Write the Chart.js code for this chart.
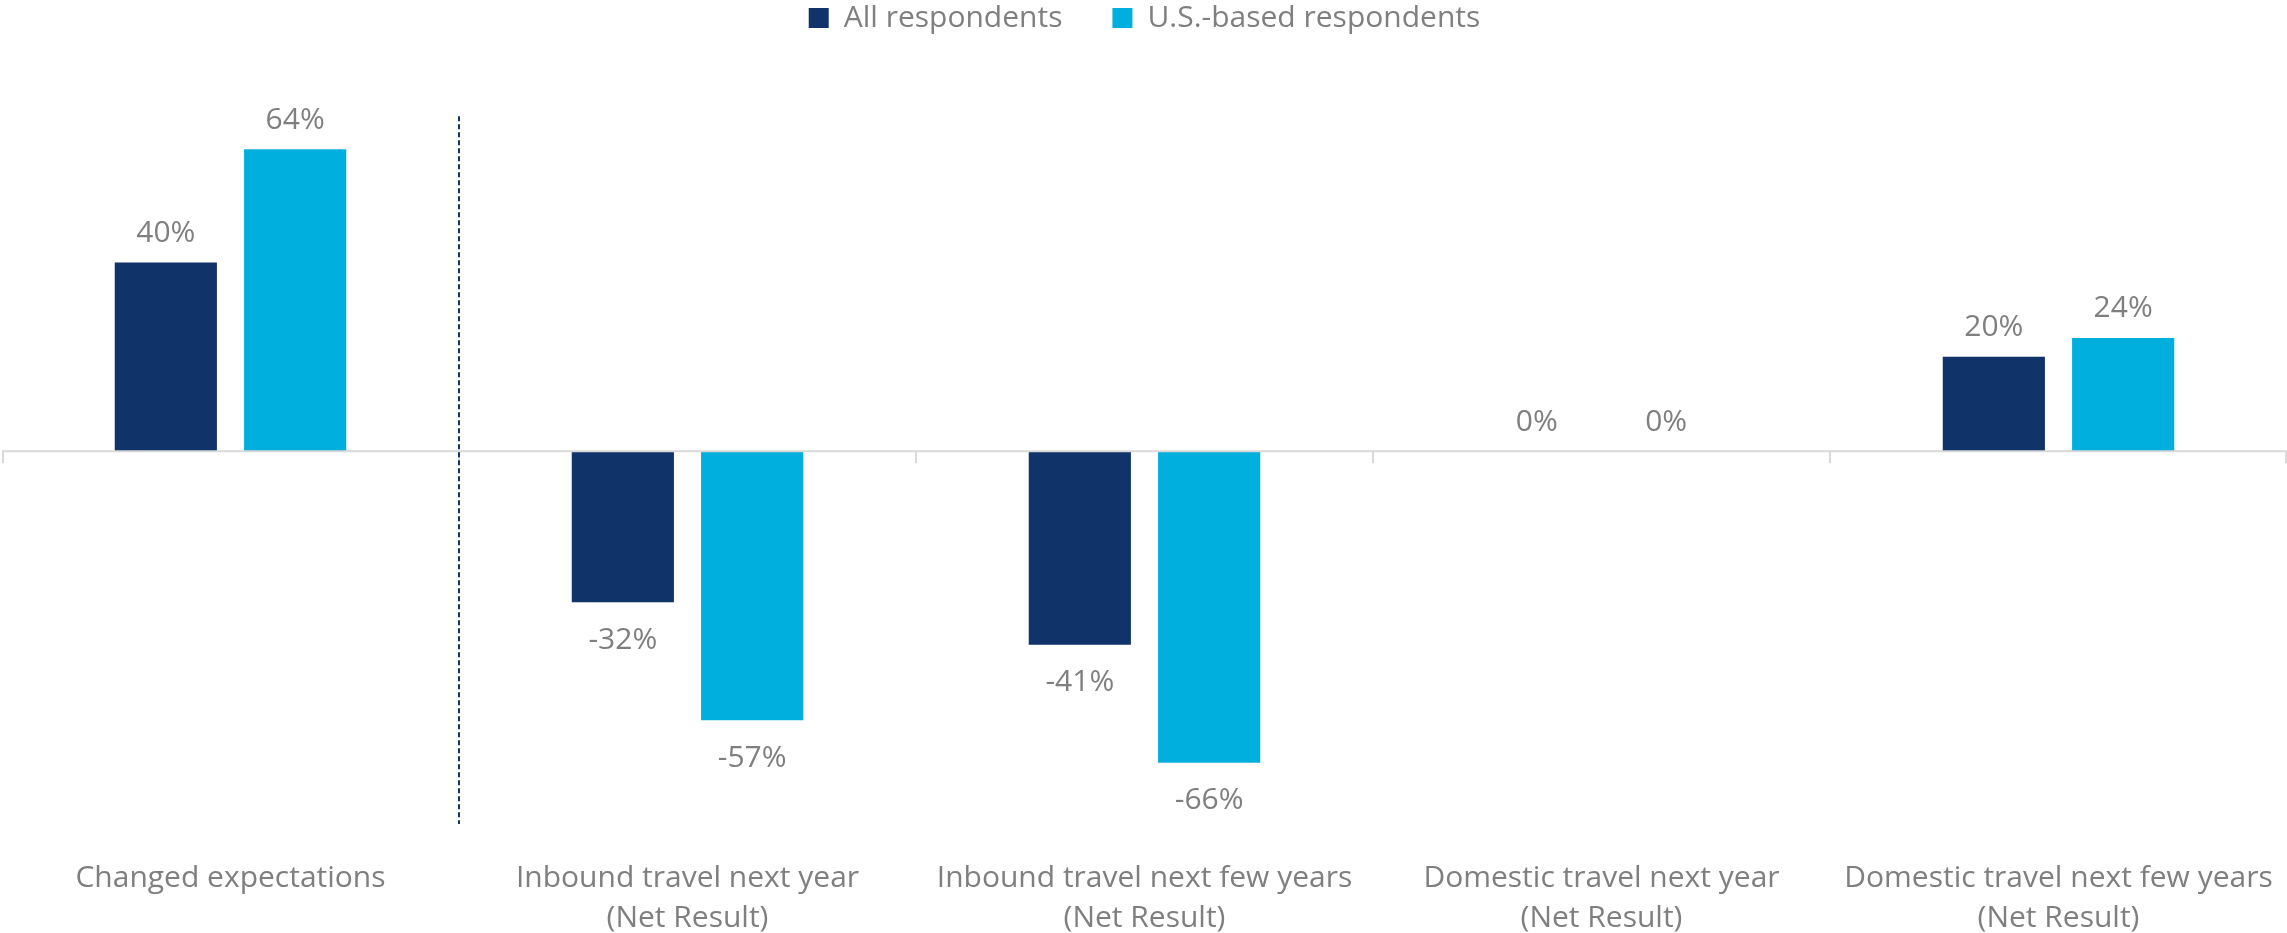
<!DOCTYPE html>
<html>
<head>
<meta charset="utf-8">
<script src="https://cdn.jsdelivr.net/npm/chart.js@4.4.1/dist/chart.umd.min.js"></script>
<style>
  html, body { margin: 0; padding: 0; background: #fff; }
  #wrap { width: 2287px; height: 933px; }
</style>
</head>
<body>
<div id="wrap"><canvas id="travelChart"></canvas></div>
<script>
// 旅行見通し（全回答者 / 米国拠点の回答者）
var categories = [
  'Changed expectations',
  ['Inbound travel next year', '(Net Result)'],
  ['Inbound travel next few years', '(Net Result)'],
  ['Domestic travel next year', '(Net Result)'],
  ['Domestic travel next few years', '(Net Result)']
];
var seriesNames = ['All respondents', 'U.S.-based respondents'];
var allRespondents = [40, -32, -41, 0, 20];
var usRespondents = [64, -57, -66, 0, 24];
var seriesColors = ['#10336A', '#00AFDD'];

var textGray = '#7F7F7F';
var axisGray = '#D9D9D9';
var baseFont = { family: "'Open Sans', 'Noto Sans', sans-serif", size: 30 };

// 値ラベル・ゼロ線・区切り線
var decorations = {
  id: 'decorations',
  afterDatasetsDraw: function(chart) {
    var ctx = chart.ctx;
    var x = chart.scales.x, y = chart.scales.y;
    var area = chart.chartArea;
    var zeroY = y.getPixelForValue(0);

    ctx.save();
    // ゼロ線
    ctx.strokeStyle = axisGray;
    ctx.lineWidth = 2;
    ctx.beginPath();
    ctx.moveTo(area.left, zeroY);
    ctx.lineTo(area.right, zeroY);
    ctx.stroke();

    // カテゴリ境界の目盛り
    var bounds = [area.left + 1];
    for (var i = 0; i < categories.length - 1; i++) {
      bounds.push((x.getPixelForValue(i) + x.getPixelForValue(i + 1)) / 2);
    }
    bounds.push(area.right - 1);
    bounds.forEach(function(bx) {
      ctx.beginPath();
      ctx.moveTo(bx, zeroY);
      ctx.lineTo(bx, zeroY + 12);
      ctx.stroke();
    });

    // 「Changed expectations」と Net Result の区切り（点線）
    var sepX = (x.getPixelForValue(0) + x.getPixelForValue(1)) / 2;
    ctx.strokeStyle = seriesColors[0];
    ctx.lineWidth = 2;
    ctx.setLineDash([5, 3]);
    ctx.beginPath();
    ctx.moveTo(sepX, y.getPixelForValue(71));
    ctx.lineTo(sepX, area.bottom);
    ctx.stroke();
    ctx.setLineDash([]);

    // 値ラベル
    ctx.fillStyle = textGray;
    ctx.font = baseFont.size + 'px ' + baseFont.family;
    ctx.textAlign = 'center';
    ctx.textBaseline = 'middle';
    chart.data.datasets.forEach(function(ds, di) {
      chart.getDatasetMeta(di).data.forEach(function(bar, j) {
        var v = ds.data[j];
        var ly = v >= 0 ? bar.y - 29 : bar.y + 38;
        ctx.fillText(v + '%', bar.x, ly);
      });
    });
    ctx.restore();
  }
};

var ctx = document.getElementById('travelChart');
var myBarChart = new Chart(ctx, {
  type: 'bar',
  data: {
    labels: categories,
    datasets: [{
      label: seriesNames[0],
      data: allRespondents,
      backgroundColor: seriesColors[0],
      categoryPercentage: 0.566,
      barPercentage: 0.79
    }, {
      label: seriesNames[1],
      data: usRespondents,
      backgroundColor: seriesColors[1],
      categoryPercentage: 0.566,
      barPercentage: 0.79
    }]
  },
  options: {
    responsive: true,
    maintainAspectRatio: false,
    animation: false,
    devicePixelRatio: 1,
    layout: {
      padding: { top: -47, left: 2, right: 0, bottom: -9 }
    },
    plugins: {
      legend: {
        position: 'top',
        labels: {
          boxWidth: 20,
          boxHeight: 20,
          padding: 50,
          color: textGray,
          font: baseFont
        }
      },
      tooltip: { enabled: false }
    },
    scales: {
      x: {
        // 目盛り線は透明にして、ラベルとの間隔だけ確保
        grid: {
          display: true,
          drawOnChartArea: false,
          drawTicks: true,
          tickLength: 31,
          color: 'rgba(0,0,0,0)'
        },
        border: { display: false },
        ticks: {
          color: textGray,
          font: { family: baseFont.family, size: 30, lineHeight: 1.35 },
          padding: 3,
          maxRotation: 0,
          autoSkip: false
        }
      },
      y: {
        display: false,
        min: -79,
        max: 86.5
      }
    }
  },
  plugins: [decorations]
});
</script>
</body>
</html>
